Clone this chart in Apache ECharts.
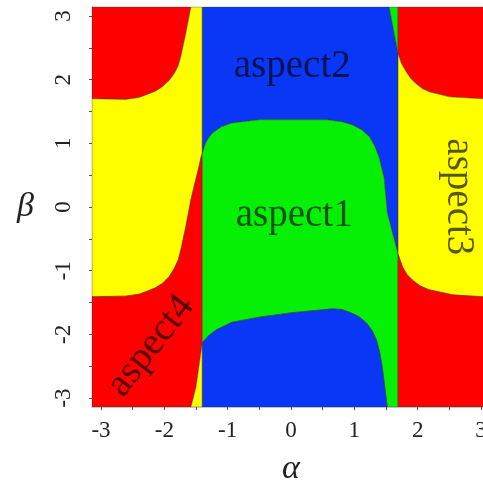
<!DOCTYPE html>
<html><head><meta charset="utf-8">
<script src="https://cdn.jsdelivr.net/npm/echarts@6/dist/echarts.min.js"></script>
<style>html,body{margin:0;padding:0;background:#fff}#c{width:483px;height:480px}</style>
</head><body><div id="c"></div>
<script>
const P = Math.PI;
const xTickLabels = [-3, -2, -1, 0, 1, 2, 3];
const yTickLabels = [-3, -2, -1, 0, 1, 2, 3];
const tickMarks = [-3, -2.5, -2, -1.5, -1, -0.5, 0, 0.5, 1, 1.5, 2, 2.5, 3];

// region boundary curves, [alpha, beta]
const redTopLeftEdge = [[-P,1.70],[-2.61,1.69],[-2.40,1.72],[-2.29,1.76],[-2.14,1.82],[-2.03,1.89],[-1.92,1.99],[-1.84,2.10],[-1.78,2.22],[-1.74,2.36],[-1.66,2.73],[-1.58,P]];
const redLowLeftEdge = [[-P,-1.41],[-2.61,-1.40],[-2.40,-1.37],[-2.29,-1.33],[-2.14,-1.27],[-2.03,-1.20],[-1.92,-1.09],[-1.84,-0.96],[-1.78,-0.83],[-1.74,-0.68],[-1.66,-0.31],[-1.58,0.11],[-1.52,0.36],[-1.46,0.60],[-1.42,0.78],[-1.40,0.84]];
const yellowLowWedge = [[-1.40,-2.13],[-1.40,-P],[-1.58,-P],[-1.50,-2.83]];
const greenTopEdge = [[-1.40,0.84],[-1.37,0.94],[-1.34,1.02],[-1.29,1.10],[-1.24,1.16],[-1.10,1.26],[-0.93,1.32],[-0.50,1.37],[0.56,1.37],[0.80,1.34],[0.97,1.29],[1.12,1.21],[1.24,1.10],[1.32,0.96],[1.39,0.78],[1.47,0.45],[1.52,-0.09],[1.60,-0.40],[1.69,-0.74]];
const greenTopWedge = [[1.55,P],[1.69,P],[1.69,2.41]];
const blueLowEdge = [[-1.40,-2.13],[-1.30,-2.02],[-1.18,-1.93],[-0.93,-1.81],[-0.50,-1.73],[0.02,-1.66],[0.65,-1.60],[0.80,-1.61],[0.92,-1.65],[1.07,-1.72],[1.19,-1.82],[1.28,-1.94],[1.35,-2.09],[1.40,-2.28],[1.44,-2.51],[1.52,-P]];
const redTopRightEdge = [[1.69,2.41],[1.74,2.26],[1.82,2.12],[1.89,2.02],[1.97,1.94],[2.07,1.86],[2.18,1.81],[2.50,1.73],[3.02,1.70],[P,1.70]];
const redLowRightEdge = [[1.69,-0.74],[1.76,-0.94],[1.83,-1.06],[1.92,-1.15],[2.04,-1.24],[2.18,-1.30],[2.55,-1.38],[3.02,-1.41],[P,-1.41]];

const regionColors = {red:'#FF0000', yellow:'#FFFF00', blue:'#0A36F5', green:'#05F005'};
const rev = a => a.slice().reverse();
const regions = [
  {c:'red',    pts:[[-P,P]].concat(redTopLeftEdge)},
  {c:'yellow', pts:[[-1.40,P]].concat(rev(redTopLeftEdge), redLowLeftEdge)},
  {c:'red',    pts:redLowLeftEdge.concat([[-1.40,-2.13],[-1.50,-2.83],[-1.58,-P],[-P,-P]])},
  {c:'yellow', pts:yellowLowWedge},
  {c:'blue',   pts:[[-1.40,P],[1.55,P],[1.69,2.41]].concat(rev(greenTopEdge))},
  {c:'green',  pts:greenTopWedge},
  {c:'green',  pts:greenTopEdge.concat([[1.69,-P]], rev(blueLowEdge))},
  {c:'blue',   pts:blueLowEdge.concat([[-1.40,-P]])},
  {c:'red',    pts:[[1.69,P],[P,P]].concat(rev(redTopRightEdge))},
  {c:'yellow', pts:redTopRightEdge.concat(rev(redLowRightEdge))},
  {c:'red',    pts:redLowRightEdge.concat([[P,-P],[1.69,-P]])}
];

const aspectNames = ['aspect1','aspect2','aspect3','aspect4'];
const aspectPos = [[0.05,-0.14],[0.02,2.20],[2.64,0.16],[-2.21,-2.18]];
const aspectAngle = [0, 0, -90, 52];

const serif = 'Liberation Serif';
const chart = echarts.init(document.getElementById('c'));
chart.setOption({
  animation:false,
  grid:{left:92, top:7, width:398, height:400, outerBoundsMode:'none', containLabel:false,
    show:true, borderColor:'#c4cce0', borderWidth:1},
  xAxis:{type:'value', min:-P, max:P,
    axisLine:{show:true, onZero:false, lineStyle:{color:'#b9c3d8', width:1}},
    axisTick:{show:true, customValues:tickMarks, length:3, lineStyle:{color:'#555'}},
    axisLabel:{customValues:xTickLabels, fontFamily:serif, fontSize:23, color:'#222', margin:12},
    splitLine:{show:false},
    name:'α', nameLocation:'middle', nameGap:45,
    nameTextStyle:{fontFamily:serif, fontStyle:'italic', fontSize:34, color:'#222'}},
  yAxis:{type:'value', min:-P, max:P,
    axisLine:{show:true, onZero:false, lineStyle:{color:'#6a6a40', width:1}},
    axisTick:{show:true, customValues:tickMarks, length:3, lineStyle:{color:'#555'}},
    axisLabel:{customValues:yTickLabels, rotate:90, fontFamily:serif, fontSize:23, color:'#222', margin:17},
    splitLine:{show:false},
    name:'β', nameLocation:'middle', nameRotate:0, nameGap:58,
    nameTextStyle:{fontFamily:serif, fontStyle:'italic', fontSize:34, color:'#222'}},
  series:[
    {type:'custom', clip:true, silent:true, data:regions.map((r,i)=>i),
     renderItem:(params, api)=>{
       const r = regions[params.dataIndex];
       return {type:'polygon', shape:{points:r.pts.map(p=>api.coord(p))},
         style:{fill:regionColors[r.c], stroke:'rgba(60,45,10,0.55)', lineWidth:0.8}};
     }},
    {type:'custom', clip:false, silent:true, z:5, data:aspectNames.map((n,i)=>i),
     renderItem:(params, api)=>{
       const i = params.dataIndex;
       const pt = api.coord(aspectPos[i]);
       return {type:'text', x:pt[0], y:pt[1], rotation:aspectAngle[i]*Math.PI/180,
         style:{text:aspectNames[i], x:0, y:0, fill:'rgba(0,0,0,0.66)', fontFamily:serif, fontSize:39,
           align:'center', verticalAlign:'middle'}};
     }}
  ]
});
</script></body></html>
